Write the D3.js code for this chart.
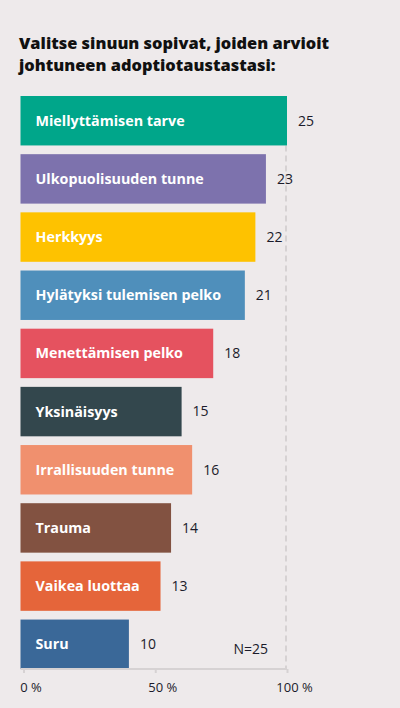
<!DOCTYPE html>
<html lang="fi">
<head>
<meta charset="UTF-8">
<script src="https://cdn.jsdelivr.net/npm/d3@7"></script>
<title>Adoptiotausta</title>
<style>
    body {
        margin: 0;
        background: #eeeaeb;
    }
    svg {
        display: block;
        font-family: "Open Sans", Lato, sans-serif;
    }
</style>
</head>
<body>
<div id="chart"></div>
<script>
    // ---- data ----
    const categories = [
        "Miellyttämisen tarve",
        "Ulkopuolisuuden tunne",
        "Herkkyys",
        "Hylätyksi tulemisen pelko",
        "Menettämisen pelko",
        "Yksinäisyys",
        "Irrallisuuden tunne",
        "Trauma",
        "Vaikea luottaa",
        "Suru"
    ];
    const counts = [25, 23, 22, 21, 18, 15, 16, 14, 13, 10];
    const respondents = 25;
    const tickValues = [0, 50, 100];
    const barColors = ["#00a68a", "#7d72ad", "#fec200", "#4f8fbb", "#e5525f",
                       "#33474d", "#f0906e", "#825241", "#e5653a", "#3a6898"];
    const titleLines = ["Valitse sinuun sopivat, joiden arvioit", "johtuneen adoptiotaustastasi:"];

    const rows = categories.map((c, i) => ({ name: c, n: counts[i], pct: counts[i] / respondents * 100, color: barColors[i] }));

    // ---- setup ----
    const width = 400, height = 708;
    const svg = d3.select("#chart").append("svg")
        .attr("width", width)
        .attr("height", height);

    const x = d3.scaleLinear().domain([0, 100]).range([23.5, 287]);
    const y = d3.scaleBand().domain(categories).range([96, 669]).paddingInner(0.15).paddingOuter(0);
    const barStart = 20.5; // bars begin a little left of the zero tick

    // title
    svg.append("g").selectAll("text")
        .data(titleLines)
        .join("text")
        .attr("x", 19)
        .attr("y", (d, i) => 48.5 + i * 22)
        .attr("font-size", 16.4)
        .attr("font-weight", 800)
        .attr("fill", "#111")
        .text(d => d);

    // dashed 100% line
    svg.append("line")
        .attr("x1", x(100) - 1).attr("x2", x(100) - 1)
        .attr("y1", y(categories[0]) + y.bandwidth()).attr("y2", 669)
        .attr("stroke", "#d6d2d3")
        .attr("stroke-width", 2)
        .attr("stroke-dasharray", "6,4");

    // bars
    svg.append("g").selectAll("rect")
        .data(rows)
        .join("rect")
        .attr("x", barStart)
        .attr("y", d => y(d.name))
        .attr("width", d => x(d.pct) - barStart)
        .attr("height", y.bandwidth())
        .attr("fill", d => d.color);

    // labels inside bars
    svg.append("g").selectAll("text")
        .data(rows)
        .join("text")
        .attr("x", 35.5)
        .attr("y", d => y(d.name) + y.bandwidth() / 2)
        .attr("dy", "0.35em")
        .attr("font-size", 14.3)
        .attr("font-weight", 700)
        .attr("fill", "#fff")
        .text(d => d.name);

    // counts to the right
    svg.append("g").selectAll("text")
        .data(rows)
        .join("text")
        .attr("x", d => x(d.pct) + 11)
        .attr("y", d => y(d.name) + y.bandwidth() / 2)
        .attr("dy", "0.35em")
        .attr("font-size", 14)
        .attr("fill", "#1b1b2a")
        .text(d => d.n);

    // N
    svg.append("text")
        .attr("x", 268)
        .attr("y", 654)
        .attr("text-anchor", "end")
        .attr("font-size", 14)
        .attr("fill", "#1b1b2a")
        .text("N=" + respondents);

    // x axis
    const axis = svg.append("g")
        .attr("transform", "translate(0,669)")
        .call(d3.axisBottom(x).tickValues(tickValues).tickSize(4).tickSizeOuter(0).tickFormat(d => d));
    axis.select(".domain")
        .attr("d", `M${barStart},0H${x(100)}`)
        .attr("stroke", "#d6d2d3").attr("stroke-width", 2);
    axis.selectAll(".tick line").attr("stroke", "#d6d2d3").attr("stroke-width", 2);
    axis.selectAll(".tick text")
        .attr("y", 18)
        .attr("dy", "0.35em")
        .attr("font-family", "'Open Sans', sans-serif")
        .attr("font-size", 13)
        .attr("fill", "#1b1b2a")
        .each(function () {
            // number centred on the tick, the % sign hangs after it
            const t = d3.select(this);
            const w = this.getComputedTextLength();
            t.attr("text-anchor", "start").attr("x", -w / 2);
            t.append("tspan").text(" %");
        });
</script>
</body>
</html>
